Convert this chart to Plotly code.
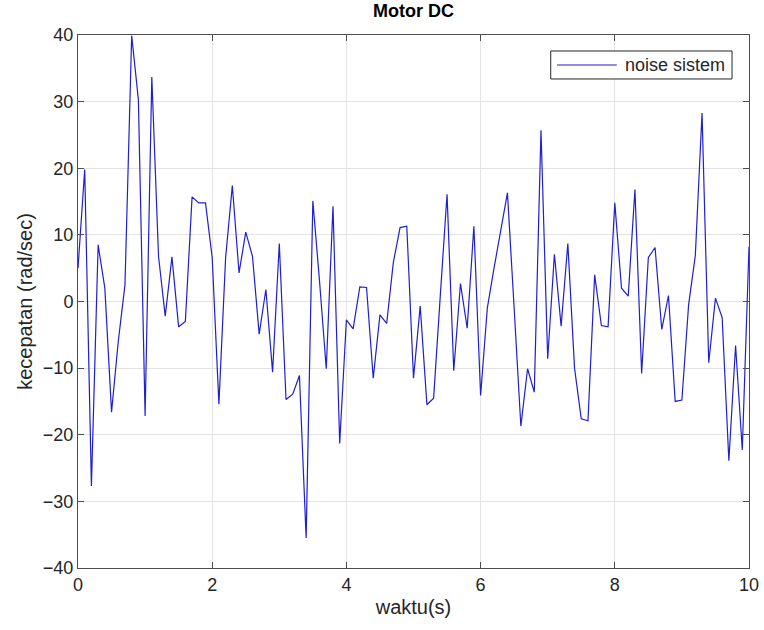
import plotly.graph_objects as go

t = [round(i * 0.1, 1) for i in range(101)]
noise = [
    5.0, 19.8, -27.7, 8.5, 2.0, -16.6, -6.0, 2.5, 39.9, 30.3,
    -17.2, 33.7, 6.8, -2.2, 6.7, -3.8, -3.0, 15.7, 14.8, 14.8,
    6.6, -15.4, 6.6, 17.4, 4.3, 10.4, 6.8, -4.9, 1.8, -10.6,
    8.7, -14.7, -13.9, -11.1, -35.5, 15.1, 3.0, -10.1, 14.3, -21.3,
    -2.75, -4.1, 2.2, 2.1, -11.5, -2.0, -3.3, 5.9, 11.1, 11.3,
    -11.5, -0.7, -15.5, -14.5, 1.0, 16.1, -10.4, 2.7, -4.0, 11.3,
    -14.1, -1.0, 5.0, 10.8, 16.3, -1.0, -18.7, -10.1, -13.6, 25.7,
    -8.6, 7.1, -3.7, 8.7, -10.0, -17.6, -17.9, 4.0, -3.6, -3.8,
    14.8, 2.0, 0.8, 16.8, -10.8, 6.6, 8.1, -4.2, 0.9, -15.0,
    -14.8, -0.5, 6.9, 28.3, -9.2, 0.5, -2.4, -23.9, -6.6, -22.3,
    8.2,
]
x_ticks = [0, 2, 4, 6, 8, 10]
y_ticks = [-40, -30, -20, -10, 0, 10, 20, 30, 40]
series_name = "noise sistem"

FONT = "Liberation Sans, Arial, sans-serif"
LINE_COLOR = "#1f1fd0"

fig = go.Figure()
fig.add_trace(go.Scatter(
    x=t, y=noise, mode="lines", name=series_name, showlegend=False,
    line=dict(color=LINE_COLOR, width=1.2),
))

axis_common = dict(
    showgrid=True, gridcolor="#e3e3e3", gridwidth=1,
    showline=True, linecolor="#4d4d4d", linewidth=1,
    mirror="ticks", ticks="inside", ticklen=6, tickcolor="#4d4d4d",
    zeroline=False, automargin=False,
    tickfont=dict(family=FONT, size=18, color="#262626"),
)

fig.update_layout(
    width=764, height=630,
    margin=dict(l=78, r=15, t=35, b=62),
    paper_bgcolor="white", plot_bgcolor="white",
    title=dict(text="<b>Motor DC</b>", x=0.5, xref="paper", xanchor="center",
               y=0.993, yanchor="top",
               font=dict(family=FONT, size=18, color="black")),
    xaxis=dict(range=[0, 10], tickvals=x_ticks,
               title=dict(text="waktu(s)", standoff=6,
                          font=dict(family=FONT, size=20, color="#262626")),
               **axis_common),
    yaxis=dict(range=[-40, 40], tickvals=y_ticks,
               title=dict(text="kecepatan (rad/sec)", standoff=4,
                          font=dict(family=FONT, size=20, color="#262626")),
               **axis_common),
    showlegend=False,
)

# MATLAB-style legend box (decoration)
fig.add_shape(type="rect", xref="paper", yref="paper",
              x0=0.7045, x1=0.9747, y0=0.9175, y1=0.970,
              line=dict(color="#262626", width=1), fillcolor="white", layer="above")
fig.add_shape(type="line", xref="paper", yref="paper",
              x0=0.714, x1=0.803, y0=0.9437, y1=0.9437,
              line=dict(color=LINE_COLOR, width=1.2), layer="above")
fig.add_annotation(text=series_name, xref="paper", yref="paper",
                   x=0.812, y=0.9437, xanchor="left", yanchor="middle",
                   showarrow=False,
                   font=dict(family=FONT, size=18, color="#262626"))

fig.write_html("out.html")
